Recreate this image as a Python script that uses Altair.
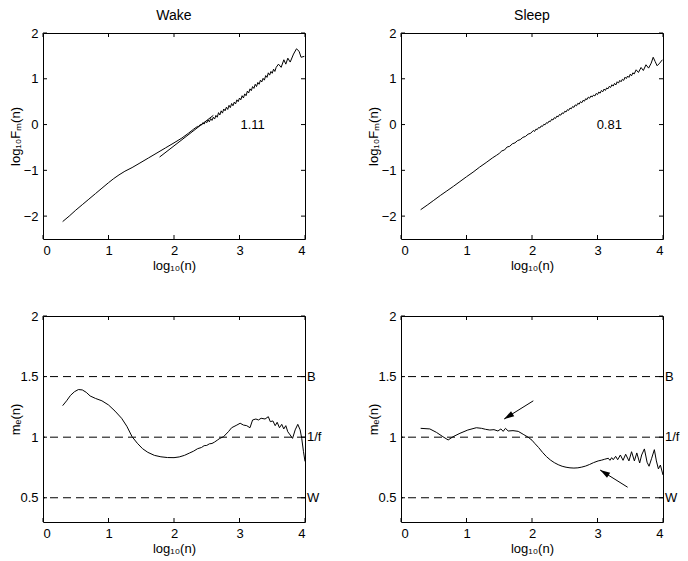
import altair as alt
import pandas as pd

FONT = "Liberation Sans"
W, H = 262, 206
TICK = 4

x_ticks = [0, 1, 2, 3, 4]
f_ticks = [-2, -1, 0, 1, 2]
m_ticks = [0.5, 1, 1.5, 2]
ref_levels = [1.5, 1.0, 0.5]
ref_labels = ["B", "1/f", "W"]

# ---- Wake: log10 F_m(n) ----
wake_f_x = [0.30, 0.40, 0.50, 0.60, 0.70, 0.80, 0.90, 1.00, 1.08, 1.16, 1.25, 1.36, 1.48,
            1.61, 1.74, 1.87, 2.00, 2.12, 2.22, 2.30, 2.36,
            2.38, 2.40, 2.42, 2.44, 2.46, 2.48, 2.50, 2.52, 2.54, 2.56, 2.58, 2.60, 2.62, 2.64,
            2.66, 2.68, 2.70, 2.72, 2.74, 2.76, 2.78, 2.80, 2.82, 2.84, 2.86, 2.88, 2.90, 2.92,
            2.94, 2.96, 2.98, 3.00, 3.02, 3.04, 3.06, 3.08, 3.10, 3.12, 3.14, 3.16, 3.18, 3.20,
            3.22, 3.24, 3.26, 3.28, 3.30, 3.32, 3.34, 3.36, 3.38, 3.40, 3.42, 3.44, 3.46, 3.48,
            3.50, 3.52, 3.54, 3.56,
            3.595, 3.636, 3.677, 3.707, 3.738, 3.774, 3.825, 3.87, 3.91, 3.94, 3.99]
wake_f_y = [-2.12, -2.00, -1.87, -1.75, -1.63, -1.51, -1.39, -1.27, -1.18, -1.10, -1.02, -0.94, -0.84,
            -0.73, -0.62, -0.51, -0.40, -0.295, -0.19, -0.10, -0.04,
            -0.04, 0.00, -0.01, 0.04, 0.01, 0.07, 0.04, 0.10, 0.06, 0.13, 0.09, 0.16, 0.12, 0.20,
            0.16, 0.26, 0.21, 0.30, 0.25, 0.34, 0.30, 0.38, 0.33, 0.42, 0.37, 0.46, 0.41, 0.49,
            0.45, 0.54, 0.50, 0.58, 0.54, 0.63, 0.58, 0.67, 0.63, 0.73, 0.69, 0.78, 0.74, 0.83,
            0.79, 0.88, 0.83, 0.92, 0.88, 0.97, 0.93, 1.01, 0.97, 1.07, 1.03, 1.13, 1.08, 1.16,
            1.12, 1.21, 1.16, 1.25,
            1.32, 1.25, 1.415, 1.32, 1.45, 1.365, 1.54, 1.655, 1.60, 1.47, 1.49]
wake_fit_x = [1.78, 2.60]
wake_fit_y = [-0.71, 0.20]

# ---- Sleep: log10 F_m(n) ----
sleep_f_x = [0.30, 0.40, 0.50, 0.60, 0.70, 0.80, 0.90, 1.00, 1.10, 1.20, 1.30, 1.40, 1.46, 1.50,
             1.54, 1.58, 1.62, 1.66, 1.70, 1.74, 1.78, 1.82, 1.86, 1.90, 1.94, 1.98,
             2.02, 2.04, 2.06, 2.08, 2.10, 2.12, 2.14, 2.16, 2.18, 2.20, 2.22, 2.24, 2.26, 2.28,
             2.30, 2.32, 2.34, 2.36, 2.38, 2.40, 2.42, 2.44, 2.46, 2.48, 2.50, 2.52, 2.54, 2.56,
             2.58, 2.60, 2.62, 2.64, 2.66, 2.68, 2.70, 2.72, 2.74, 2.76, 2.78, 2.80, 2.82, 2.84,
             2.86, 2.88, 2.90, 2.92, 2.94, 2.96, 2.98, 3.00, 3.02, 3.04, 3.06, 3.08, 3.10, 3.12,
             3.14, 3.16, 3.18, 3.20, 3.22, 3.24, 3.26, 3.28, 3.30, 3.32, 3.34, 3.36, 3.38, 3.40,
             3.42, 3.44, 3.46, 3.48, 3.50, 3.52, 3.54, 3.56,
             3.59, 3.625, 3.665, 3.70, 3.74, 3.78, 3.82, 3.85, 3.88, 3.91, 3.95, 3.99]
sleep_f_y = [-1.86, -1.76, -1.655, -1.55, -1.45, -1.35, -1.245, -1.14, -1.04, -0.93, -0.83, -0.725, -0.67, -0.63,
             -0.575, -0.555, -0.49, -0.475, -0.42, -0.40, -0.35, -0.33, -0.28, -0.26, -0.21, -0.19,
             -0.13, -0.15, -0.10, -0.11, -0.065, -0.075, -0.03, -0.04, 0.005, -0.005, 0.04, 0.03, 0.075, 0.065,
             0.115, 0.10, 0.15, 0.135, 0.185, 0.17, 0.22, 0.205, 0.255, 0.24, 0.29, 0.275, 0.325, 0.31,
             0.36, 0.345, 0.395, 0.375, 0.43, 0.41, 0.465, 0.445, 0.50, 0.475, 0.53, 0.51, 0.565, 0.545,
             0.60, 0.575, 0.625, 0.605, 0.645, 0.625, 0.68, 0.655, 0.71, 0.685, 0.745, 0.715, 0.775, 0.745,
             0.80, 0.78, 0.835, 0.81, 0.87, 0.84, 0.90, 0.865, 0.935, 0.905, 0.965, 0.935, 0.99, 0.965,
             1.035, 1.005, 1.06, 1.03, 1.10, 1.065, 1.13, 1.105,
             1.196, 1.138, 1.247, 1.181, 1.306, 1.233, 1.342, 1.47, 1.378, 1.284, 1.342, 1.415]

# ---- Wake: m_e(n) ----
wake_m_x = [0.30, 0.36, 0.42, 0.48, 0.54, 0.60, 0.66, 0.72, 0.80, 0.90, 1.00, 1.10, 1.20, 1.28,
            1.36, 1.44, 1.52, 1.60, 1.70, 1.80, 1.90, 2.00, 2.08, 2.16, 2.24, 2.30, 2.36, 2.42,
            2.46, 2.50, 2.54, 2.58, 2.62, 2.66, 2.70, 2.756, 2.83, 2.88, 2.96, 3.01, 3.06, 3.11,
            3.16, 3.20, 3.25, 3.29, 3.33, 3.39, 3.44, 3.47, 3.51, 3.545, 3.575, 3.61, 3.645,
            3.676, 3.707, 3.737, 3.774, 3.81, 3.85, 3.89, 3.926, 3.95, 3.977, 4.00]
wake_m_y = [1.26, 1.30, 1.345, 1.375, 1.393, 1.39, 1.37, 1.34, 1.32, 1.30, 1.266, 1.215, 1.156, 1.09,
            1.004, 0.95, 0.905, 0.875, 0.85, 0.838, 0.832, 0.831, 0.837, 0.85, 0.87, 0.885, 0.905, 0.915,
            0.93, 0.932, 0.945, 0.948, 0.96, 0.975, 0.99, 1.004, 1.045, 1.078, 1.10, 1.115, 1.10, 1.095,
            1.078, 1.142, 1.15, 1.142, 1.156, 1.15, 1.169, 1.128, 1.134, 1.095, 1.123, 1.078, 1.106,
            1.068, 1.095, 1.045, 1.018, 0.99, 1.06, 1.106, 1.06, 0.99, 0.88, 0.80]

# ---- Sleep: m_e(n) ----
sleep_m_x = [0.30, 0.44, 0.54, 0.64, 0.72, 0.795, 0.90, 1.02, 1.15, 1.23, 1.29, 1.356, 1.42, 1.48,
             1.525, 1.56, 1.595, 1.636, 1.71, 1.79, 1.865, 1.94, 2.00, 2.04, 2.10, 2.16, 2.22, 2.28,
             2.34, 2.40, 2.46, 2.52, 2.58, 2.64, 2.70, 2.76, 2.82, 2.88, 2.94, 3.01, 3.06, 3.11,
             3.165, 3.19, 3.216, 3.24, 3.277, 3.308, 3.349,
             3.39, 3.43, 3.48, 3.52, 3.563, 3.60, 3.644, 3.674, 3.716, 3.757, 3.787, 3.827, 3.868,
             3.899, 3.93, 3.96, 4.00]
sleep_m_y = [1.073, 1.068, 1.04, 1.004, 0.977, 1.004, 1.032, 1.059, 1.078, 1.073, 1.065, 1.059, 1.062, 1.051,
             1.068, 1.048, 1.073, 1.051, 1.054, 1.048, 1.024, 1.0, 0.975, 0.95, 0.915, 0.875, 0.84, 0.812,
             0.79, 0.773, 0.76, 0.752, 0.747, 0.745, 0.747, 0.753, 0.762, 0.775, 0.79, 0.804, 0.81, 0.818,
             0.826, 0.809, 0.831, 0.814, 0.842, 0.814, 0.853,
             0.809, 0.859, 0.804, 0.88, 0.804, 0.870, 0.787, 0.853, 0.903, 0.793, 0.76, 0.826, 0.897,
             0.804, 0.738, 0.77, 0.688]

# arrows in the Sleep m_e panel: tail -> tip
arrow_x = [2.02, 3.46]
arrow_y = [1.30, 0.587]
arrow_tip_x = [1.575, 3.04]
arrow_tip_y = [1.15, 0.729]
arrow_angle = [238, 302]

slopes = ["1.11", "0.81"]
slope_pos_x = [3.2, 3.18]
slope_pos_y = [0.0, 0.0]

XTITLE = "log\u2081\u2080(n)"
FTITLE = "log\u2081\u2080F\u2098(n)"
MTITLE = "m\u2091(n)"

HEAD = "M0,0L0.6,2L-0.6,2Z"


def panel(xs_list, ys_list, ydomain, yticks, ytitle, title=None,
          slope=None, refs=False, arrows=False, fit=None):
    xs = alt.Scale(domain=[0, 4], nice=False, zero=False)
    ys = alt.Scale(domain=ydomain, nice=False, zero=False)
    xaxis = alt.Axis(values=x_ticks, title=XTITLE, format="~g")
    yaxis = alt.Axis(values=yticks, title=ytitle, format="~g", titleX=-21, titleY=H / 2)

    def X(f):
        return alt.X(f, type="quantitative", scale=xs, axis=xaxis)

    def Y(f):
        return alt.Y(f, type="quantitative", scale=ys, axis=yaxis)

    layers = []
    if refs:
        rd = pd.DataFrame({"y": ref_levels, "lab": ref_labels})
        layers.append(alt.Chart(rd).mark_rule(color="black", strokeWidth=1, strokeDash=[8, 5])
                      .encode(y=Y("y")))
        layers.append(alt.Chart(rd).mark_text(align="left", baseline="middle", font=FONT,
                                              fontSize=13, color="black")
                      .encode(x=alt.value(W + 2), y=Y("y"), text="lab:N"))
    cd = pd.DataFrame({"x": xs_list, "y": ys_list})
    layers.append(alt.Chart(cd).mark_line(color="black", strokeWidth=1).encode(x=X("x"), y=Y("y")))
    if fit is not None:
        fd = pd.DataFrame({"x": fit[0], "y": fit[1]})
        layers.append(alt.Chart(fd).mark_line(color="black", strokeWidth=1).encode(x=X("x"), y=Y("y")))
    if slope is not None:
        sd = pd.DataFrame({"x": [slope[1]], "y": [slope[2]], "t": [slope[0]]})
        layers.append(alt.Chart(sd).mark_text(align="center", baseline="middle", font=FONT,
                                              fontSize=13, color="black")
                      .encode(x=X("x"), y=Y("y"), text="t:N"))
    if arrows:
        ad = pd.DataFrame({"x": arrow_x, "y": arrow_y, "x2": arrow_tip_x, "y2": arrow_tip_y})
        layers.append(alt.Chart(ad).mark_rule(color="black", strokeWidth=1)
                      .encode(x=X("x"), y=Y("y"), x2="x2", y2="y2"))
        for i in range(len(arrow_x)):
            hd = pd.DataFrame({"x": [arrow_tip_x[i]], "y": [arrow_tip_y[i]]})
            layers.append(alt.Chart(hd).mark_point(shape=HEAD, filled=True, color="black",
                                                   opacity=1, size=100, angle=arrow_angle[i],
                                                   strokeWidth=0)
                          .encode(x=X("x"), y=Y("y")))
    # inward ticks on all four sides
    xt = pd.DataFrame({"x": x_ticks})
    yt = pd.DataFrame({"y": yticks})
    ts = dict(color="black", strokeWidth=1)
    layers.append(alt.Chart(xt).mark_rule(**ts).encode(x=X("x"), y=alt.value(0), y2=alt.value(TICK)))
    layers.append(alt.Chart(xt).mark_rule(**ts).encode(x=X("x"), y=alt.value(H), y2=alt.value(H - TICK)))
    layers.append(alt.Chart(yt).mark_rule(**ts).encode(y=Y("y"), x=alt.value(0), x2=alt.value(TICK)))
    layers.append(alt.Chart(yt).mark_rule(**ts).encode(y=Y("y"), x=alt.value(W), x2=alt.value(W - TICK)))

    ch = alt.layer(*layers).properties(width=W, height=H)
    if title:
        ch = ch.properties(title=alt.TitleParams(text=title))
    return ch


p1 = panel(wake_f_x, wake_f_y, [-2.5, 2], f_ticks, FTITLE, title="Wake",
           slope=(slopes[0], slope_pos_x[0], slope_pos_y[0]), fit=(wake_fit_x, wake_fit_y))
p2 = panel(sleep_f_x, sleep_f_y, [-2.5, 2], f_ticks, FTITLE, title="Sleep",
           slope=(slopes[1], slope_pos_x[1], slope_pos_y[1]))
p3 = panel(wake_m_x, wake_m_y, [0.3, 2], m_ticks, MTITLE, refs=True)
p4 = panel(sleep_m_x, sleep_m_y, [0.3, 2], m_ticks, MTITLE, refs=True, arrows=True)

chart = alt.concat(p1, p2, p3, p4, columns=2, spacing={"row": 77, "column": 96},
                   bounds="flush").properties(
    padding={"left": 0, "top": 0, "right": 0, "bottom": 0}
).configure_view(stroke="black", strokeWidth=1).configure_axis(
    domain=False, ticks=False, grid=False, labelFont=FONT, titleFont=FONT,
    labelFontSize=13, titleFontSize=13, titleFontWeight="normal",
    labelColor="black", titleColor="black", labelPadding=5
).configure_axisX(titlePadding=2).configure_title(
    font=FONT, fontSize=14, fontWeight="normal", offset=0, color="black"
)

chart.save("out.html", embed_options={"renderer": "svg", "actions": False})
